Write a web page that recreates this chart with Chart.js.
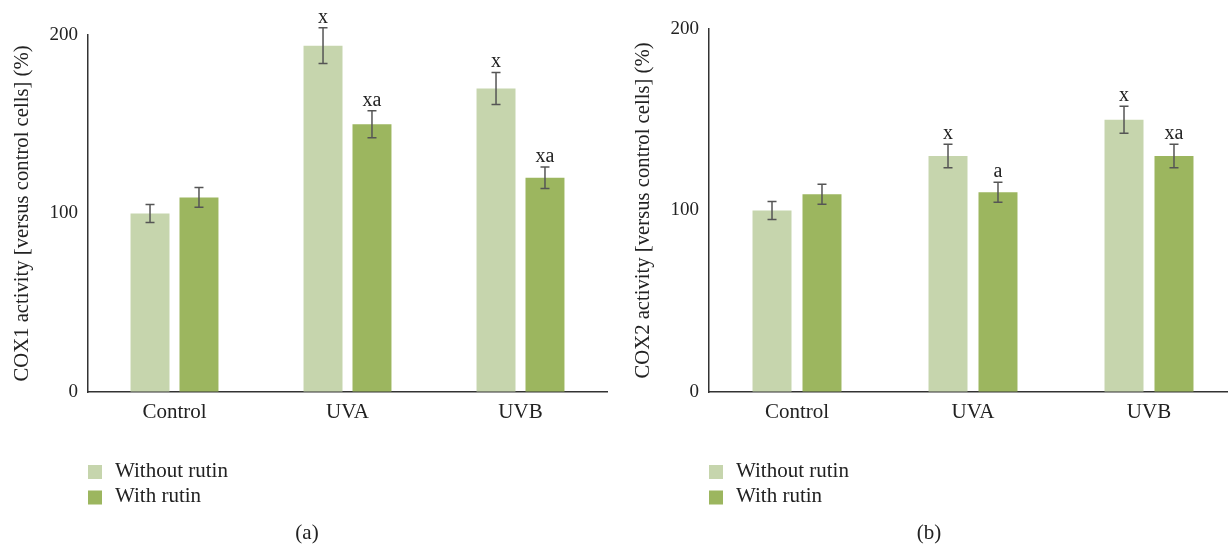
<!DOCTYPE html>
<html>
<head>
<meta charset="utf-8">
<script src="https://cdn.jsdelivr.net/npm/chart.js@4.4.1/dist/chart.umd.min.js"></script>
<style>
  html, body { margin: 0; padding: 0; background: #fff; overflow: hidden; }
  #wrap { position: relative; width: 1228px; height: 544px; overflow: hidden; background: #fff; }
  canvas { position: absolute; top: 0; }
  #cox1 { left: 0; }
  #cox2 { left: 621px; }
</style>
</head>
<body>
<div id="wrap">
  <canvas id="cox1" width="614" height="544"></canvas>
  <canvas id="cox2" width="616" height="544"></canvas>
</div>
<script>
// Treatment groups and series
const categories = ['Control', 'UVA', 'UVB'];
const seriesNames = ['Without rutin', 'With rutin'];
const yTicks = [0, 100, 200];

// COX1 activity (% of control cells)
const cox1Without = [100, 194, 170];
const cox1WithoutErr = [5, 10, 9];
const cox1WithoutMarks = ['', 'x', 'x'];
const cox1With = [109, 150, 120];
const cox1WithErr = [5.5, 7.5, 6];
const cox1WithMarks = ['', 'xa', 'xa'];

// COX2 activity (% of control cells)
const cox2Without = [100, 130, 150];
const cox2WithoutErr = [5, 6.5, 7.5];
const cox2WithoutMarks = ['', 'x', 'x'];
const cox2With = [109, 110, 130];
const cox2WithErr = [5.5, 5.5, 6.5];
const cox2WithMarks = ['', 'a', 'xa'];

const LIGHT = '#c6d5ad';
const DARK = '#9cb65f';
const SERIF = "'Liberation Serif', 'Times New Roman', serif";
const TEXT = '#222';

Chart.defaults.color = TEXT;
Chart.defaults.font.family = SERIF;

// Error bars, significance letters, stacked legend and panel caption
const annotate = {
  id: 'annotate',
  afterDatasetsDraw(chart) {
    const ctx = chart.ctx;
    const y = chart.scales.y;
    ctx.save();
    chart.data.datasets.forEach((ds, di) => {
      const meta = chart.getDatasetMeta(di);
      meta.data.forEach((bar, i) => {
        const v = ds.data[i], e = ds.errors[i];
        const yt = y.getPixelForValue(v + e);
        const yb = y.getPixelForValue(v - e);
        ctx.strokeStyle = '#555';
        ctx.lineWidth = 1.5;
        ctx.beginPath();
        ctx.moveTo(bar.x, yt); ctx.lineTo(bar.x, yb);
        ctx.moveTo(bar.x - 4.5, yt); ctx.lineTo(bar.x + 4.5, yt);
        ctx.moveTo(bar.x - 4.5, yb); ctx.lineTo(bar.x + 4.5, yb);
        ctx.stroke();
        const m = ds.marks[i];
        if (m) {
          ctx.fillStyle = TEXT;
          ctx.font = '20px ' + SERIF;
          ctx.textAlign = 'center';
          ctx.textBaseline = 'alphabetic';
          ctx.fillText(m, bar.x, yt - 5);
        }
      });
    });
    ctx.restore();
  },
  afterDraw(chart, args, opts) {
    const ctx = chart.ctx;
    const left = chart.chartArea.left;
    ctx.save();
    ctx.font = '21px ' + SERIF;
    ctx.textBaseline = 'middle';
    chart.data.datasets.forEach((ds, di) => {
      const cy = 472 + di * 25.5;
      ctx.fillStyle = ds.backgroundColor;
      ctx.fillRect(left, cy - 7, 14, 14);
      ctx.fillStyle = TEXT;
      ctx.textAlign = 'left';
      ctx.fillText(ds.label, left + 27, cy - 1);
    });
    ctx.textAlign = 'center';
    ctx.fillText(opts.caption, chart.width / 2, 533);
    ctx.restore();
  }
};

function makeChart(id, title, caption, without, withoutErr, withoutMarks, withR, withErr, withMarks, padTop, padRight, catPct, barPct) {
  return new Chart(document.getElementById(id), {
    type: 'bar',
    data: {
      labels: categories,
      datasets: [
        { label: seriesNames[0], data: without, errors: withoutErr, marks: withoutMarks,
          backgroundColor: LIGHT, categoryPercentage: catPct, barPercentage: barPct },
        { label: seriesNames[1], data: withR, errors: withErr, marks: withMarks,
          backgroundColor: DARK, categoryPercentage: catPct, barPercentage: barPct }
      ]
    },
    options: {
      responsive: false,
      animation: false,
      events: [],
      layout: { padding: { top: padTop, right: padRight, bottom: 112, left: 0 } },
      plugins: {
        legend: { display: false },
        tooltip: { enabled: false },
        annotate: { caption: caption }
      },
      scales: {
        x: {
          grid: { display: true, drawOnChartArea: false, drawTicks: false },
          border: { display: true, color: '#333', width: 1.5 },
          ticks: { padding: 8, color: TEXT, font: { size: 21, family: SERIF } },
          afterFit: s => { s.height = 40; }
        },
        y: {
          min: 0, max: 200,
          afterBuildTicks: s => { s.ticks = yTicks.map(v => ({ value: v })); },
          grid: { display: true, drawOnChartArea: false, drawTicks: false },
          border: { display: true, color: '#333', width: 1.5 },
          ticks: { padding: 10, color: TEXT, font: { size: 19, family: SERIF } },
          title: { display: true, text: title, color: TEXT, padding: { top: 10, bottom: 0 },
                   font: { size: 20.7, family: SERIF } },
          afterFit: s => { s.width = 88; }
        }
      }
    },
    plugins: [annotate]
  });
}

makeChart('cox1', 'COX1 activity [versus control cells] (%)', '(a)',
  cox1Without, cox1WithoutErr, cox1WithoutMarks, cox1With, cox1WithErr, cox1WithMarks,
  35, 7, 0.566, 0.796);
makeChart('cox2', 'COX2 activity [versus control cells] (%)', '(b)',
  cox2Without, cox2WithoutErr, cox2WithoutMarks, cox2With, cox2WithErr, cox2WithMarks,
  29, 0, 0.568, 0.78);
</script>
</body>
</html>
